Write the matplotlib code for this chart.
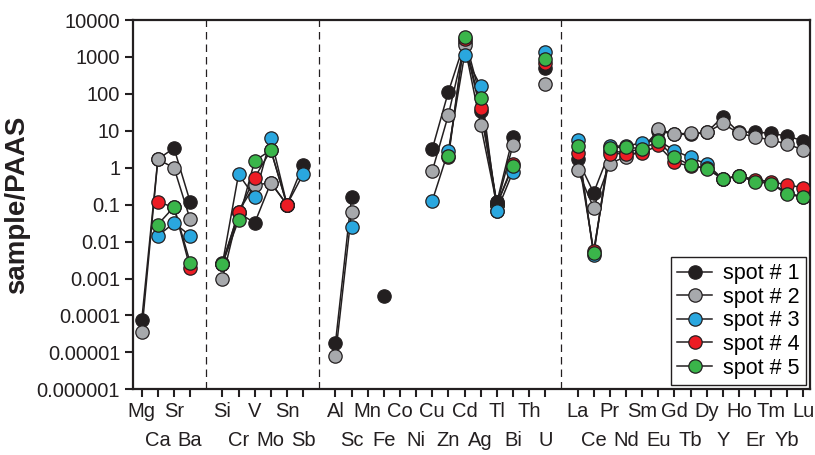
import numpy as np
import matplotlib
matplotlib.use("Agg")
import matplotlib.pyplot as plt
from matplotlib.ticker import FixedLocator, FuncFormatter, NullLocator

plt.rcParams['font.family'] = ['Liberation Sans', 'DejaVu Sans']

nan = np.nan

# element groups (a dashed separator sits between groups)
groups = [
    ["Mg", "Ca", "Sr", "Ba"],
    ["Si", "Cr", "V", "Mo", "Sn", "Sb"],
    ["Al", "Sc", "Mn", "Fe", "Co", "Ni", "Cu", "Zn", "Cd", "Ag", "Tl", "Bi", "Th", "U"],
    ["La", "Ce", "Pr", "Nd", "Sm", "Eu", "Gd", "Tb", "Dy", "Y", "Ho", "Er", "Tm", "Yb", "Lu"],
]

#        Mg      Ca      Sr     Ba
spot1 = [7.4e-5, 1.7,    3.4,   0.12,
         0.0027, 0.06,   0.032, 0.39, 0.1, 1.2,
         1.75e-5, 0.16, nan, 3.3e-4, nan, nan, 3.2, 114, 2500, 34, 0.115, 6.9, nan, 510,
         1.7, 0.21, 2.8, 2.6, 3.3, 10, 8, 8, 9, 24, 9, 9.3, 8.5, 7.2, 5.3]
spot2 = [3.5e-5, 1.68,   1.0,   0.04,
         0.001,  0.065,  0.34,  0.39, 0.1, nan,
         7.9e-6, 0.063, nan, nan, nan, nan, 0.81, 27, 2100, 14.3, 0.1, 4.1, nan, 186,
         0.87, 0.082, 1.3, 2.0, 2.8, 11, 8.3, 8.5, 9, 15.8, 8.5, 6.9, 5.6, 4.4, 3.0]
spot3 = [nan,    0.0143, 0.032, 0.0145,
         0.0025, 0.67,   0.16,  6.4,  0.1, 0.67,
         nan, 0.025, nan, nan, nan, nan, 0.127, 2.9, 1130, 162, 0.067, 0.78, nan, 1380,
         5.5, 0.0043, 3.8, 3.9, 4.7, 5.6, 2.9, 1.9, 1.25, 0.5, 0.6, 0.45, 0.38, 0.21, 0.16]
spot4 = [nan,    0.115,  0.087, 0.0019,
         0.0024, 0.062,  0.54,  3.0,  0.1, nan,
         nan, nan, nan, nan, nan, nan, nan, 1.9, 3000, 42, 0.1, 1.23, nan, 700,
         2.5, 0.0055, 2.4, 2.4, 2.5, 4.0, 1.4, 1.1, 1.0, 0.5, 0.6, 0.48, 0.42, 0.34, 0.29]
spot5 = [nan,    0.029,  0.087, 0.0027,
         0.0025, 0.038,  1.54,  3.0,  0.1, nan,
         nan, nan, nan, nan, nan, nan, nan, 2.1, 3500, 76, 0.1, 1.1, nan, 870,
         3.9, 0.005, 3.4, 3.7, 3.2, 5.2, 1.9, 1.18, 0.93, 0.5, 0.59, 0.42, 0.37, 0.19, 0.16]

labels = ["spot # 1", "spot # 2", "spot # 3", "spot # 4", "spot # 5"]
colors = ["#231f20", "#a7a9ac", "#2aa7df", "#ec1c24", "#3ab54a"]
# points that sit on top of the others in the original
front = [(0, "Tl"), (2, "Tl"), (3, "Sn")]

yticks = [1e-6, 1e-5, 1e-4, 1e-3, 1e-2, 1e-1, 1, 10, 100, 1000, 10000]

# x positions, leaving one empty slot between groups
elements, xpos, seps, grp = [], [], [], []
p = 0
for gi, g in enumerate(groups):
    if gi > 0:
        seps.append(p)
        p += 1
    for el in g:
        elements.append(el)
        xpos.append(p)
        grp.append(gi)
        p += 1
xpos = np.array(xpos)
grp = np.array(grp)

fig = plt.figure(figsize=(8.15, 4.55), dpi=100)
ax = fig.add_axes([0.1628, 0.1444, 0.831, 0.8116])

series = [np.array(s, dtype=float) for s in [spot1, spot2, spot3, spot4, spot5]]
# connecting lines, broken between groups
for s in series:
    for gi in range(len(groups)):
        m = grp == gi
        ax.plot(xpos[m], s[m], '-', color='#231f20', lw=1.1, zorder=2)
for i, s in enumerate(series):
    ax.plot(xpos, s, 'o', ms=9.6, mfc=colors[i], mec='#231f20', mew=0.9,
            ls='none', zorder=3 + i)
for i, el in front:
    k = elements.index(el)
    ax.plot(xpos[k], series[i][k], 'o', ms=9.6, mfc=colors[i], mec='#231f20',
            mew=0.9, zorder=10)

# legend handles
for i in range(5):
    ax.plot([], [], '-o', color='#231f20', lw=1.1, ms=9.6, mfc=colors[i],
            mec='#231f20', mew=0.9, label=labels[i])

for sx in seps:
    ax.axvline(sx, color='#231f20', lw=0.9, ls=(0, (6, 4)), zorder=1)

ax.set_yscale('log')
ax.set_ylim(1e-6, 1e4)
ax.set_xlim(-0.56, 41.4)
ax.yaxis.set_major_locator(FixedLocator(yticks))
ax.yaxis.set_minor_locator(NullLocator())
ax.yaxis.set_major_formatter(FuncFormatter(
    lambda v, pos: format(v, 'f').rstrip('0').rstrip('.')))
ax.set_xticks(xpos)
ax.set_xticklabels(elements)
ax.xaxis.set_minor_locator(NullLocator())

ax.tick_params(axis='both', direction='out', length=6, width=1.5,
               labelsize=14.5, colors='#231f20')
ax.tick_params(axis='y', pad=3)
# alternate rows of element labels within each group
k = 0
for g in groups:
    for j in range(len(g)):
        tick = ax.xaxis.get_major_ticks()[k]
        tick.set_pad(3 if j % 2 == 0 else 24)
        k += 1

for sp in ax.spines.values():
    sp.set_linewidth(1.6)
    sp.set_color('#231f20')

ax.set_ylabel('sample/PAAS', fontsize=20, fontweight='bold', color='#231f20')
ax.yaxis.set_label_coords(-0.152, 0.5)

leg = ax.legend(loc='lower right', fontsize=15.5, frameon=True, fancybox=False,
                edgecolor='#231f20', framealpha=1, handlelength=1.6,
                handletextpad=0.5, labelspacing=0.12, borderpad=0.3,
                borderaxespad=0.2)
leg.get_frame().set_linewidth(1.0)

fig.savefig('out.png', dpi=100)
